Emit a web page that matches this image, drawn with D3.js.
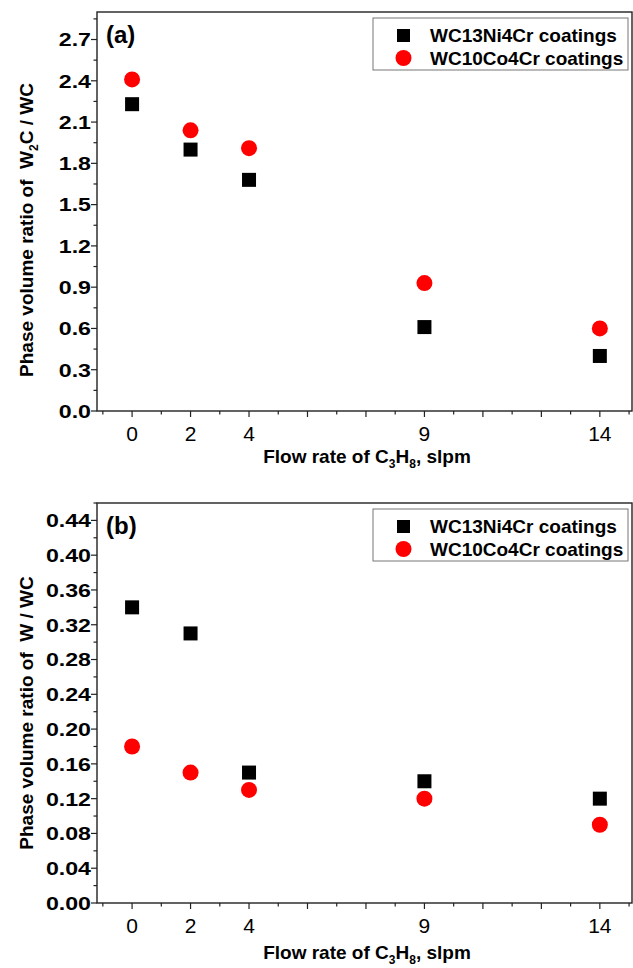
<!DOCTYPE html>
<html lang="en">
<head>
<meta charset="utf-8">
<script src="https://cdnjs.cloudflare.com/ajax/libs/d3/7.8.5/d3.min.js"></script>
<style>
  body { margin: 0; background: #fff; }
  svg { display: block; font-family: 'Liberation Sans', Arial, sans-serif; }
</style>
</head>
<body>
<svg width="633" height="968"></svg>
<script>
// flow rates (labels) and where they sit on the axis
const flowLabels = ['0', '2', '4', '9', '14']
const flowPos = [0, 2, 4, 10, 16]
const seriesNames = ['WC13Ni4Cr coatings', 'WC10Co4Cr coatings']

// panel (a): W2C / WC
const ni_a = [2.23, 1.90, 1.68, 0.61, 0.40]
const co_a = [2.41, 2.04, 1.91, 0.93, 0.60]
const yTicks_a = [0, 0.3, 0.6, 0.9, 1.2, 1.5, 1.8, 2.1, 2.4, 2.7]

// panel (b): W / WC
const ni_b = [0.34, 0.31, 0.15, 0.14, 0.12]
const co_b = [0.18, 0.15, 0.13, 0.12, 0.09]
const yTicks_b = [0, 0.04, 0.08, 0.12, 0.16, 0.20, 0.24, 0.28, 0.32, 0.36, 0.40, 0.44]

const svg = d3.select('svg')
const left = 97, right = 632

const x = d3.scaleLinear().domain([-1.2, 17.1]).range([left, right])

function panel(cfg) {
    const y = d3.scaleLinear().domain([0, cfg.ymax]).range([cfg.bottom, cfg.top])
    const g = svg.append('g')

    // frame
    g.append('rect')
        .attr('x', left).attr('y', cfg.top)
        .attr('width', right - left).attr('height', cfg.bottom - cfg.top)
        .attr('fill', 'none').attr('stroke', '#222').attr('stroke-width', 1.4)

    // x ticks: every unit, long every 2
    const xt = d3.range(-1, 18)
    g.selectAll('.xt').data(xt).enter().append('line')
        .attr('x1', d => x(d)).attr('x2', d => x(d))
        .attr('y1', cfg.bottom)
        .attr('y2', d => cfg.bottom + (d % 2 === 0 ? 6 : 3.5))
        .attr('stroke', '#222').attr('stroke-width', 1.2)
    g.selectAll('.xl').data(flowLabels).enter().append('text')
        .attr('x', (d, i) => x(flowPos[i]))
        .attr('y', cfg.bottom + 30)
        .attr('text-anchor', 'middle')
        .attr('font-family', "'Liberation Sans Narrow', 'Liberation Sans', Arial, sans-serif")
        .attr('font-size', 21)
        .text(d => d)

    // y ticks: major + half-step minor
    const step = cfg.yTicks[1] - cfg.yTicks[0]
    const minor = d3.range(0, cfg.ymax + 1e-9, step / 2)
    g.selectAll('.yt').data(minor).enter().append('line')
        .attr('x1', left).attr('x2', (d, i) => left - (i % 2 === 0 ? 6 : 3.5))
        .attr('y1', d => y(d)).attr('y2', d => y(d))
        .attr('stroke', '#222').attr('stroke-width', 1.2)
    g.selectAll('.yl').data(cfg.yTicks).enter().append('text')
        .attr('transform', d => 'translate(' + (left - 6) + ',' + y(d) + ') scale(1.22,1)')
        .attr('dy', '0.36em')
        .attr('text-anchor', 'end')
        .attr('font-size', 19).attr('font-weight', 'bold')
        .text(d => d.toFixed(cfg.digits))

    // panel letter
    g.append('text').attr('x', 106).attr('y', cfg.top + 31)
        .attr('font-size', 24).attr('font-weight', 'bold').text(cfg.letter)

    // axis titles
    const xt1 = g.append('text').attr('x', 367).attr('y', cfg.bottom + cfg.xTitleDy)
        .attr('text-anchor', 'middle').attr('font-size', 19).attr('font-weight', 'bold')
    xt1.append('tspan').text('Flow rate of C')
    xt1.append('tspan').attr('font-size', 12).attr('dy', 5).text('3')
    xt1.append('tspan').attr('dy', -5).text('H')
    xt1.append('tspan').attr('font-size', 12).attr('dy', 5).text('8')
    xt1.append('tspan').attr('dy', -5).text(', slpm')

    const yt1 = g.append('text')
        .attr('transform', 'translate(33,' + cfg.yTitleMid + ') rotate(-90)')
        .attr('text-anchor', 'middle').attr('font-size', 19).attr('font-weight', 'bold')
    cfg.yTitle(yt1)

    // points
    g.selectAll('.sq').data(cfg.ni).enter().append('rect')
        .attr('x', (d, i) => x(flowPos[i]) - 7)
        .attr('y', d => y(d) - 7)
        .attr('width', 14).attr('height', 14)
        .attr('fill', '#000')
    g.selectAll('.ci').data(cfg.co).enter().append('circle')
        .attr('cx', (d, i) => x(flowPos[i]))
        .attr('cy', d => y(d))
        .attr('r', 8)
        .attr('fill', '#f00')

    // legend
    const lg = g.append('g').attr('transform', 'translate(373,' + (cfg.top + 6) + ')')
    lg.append('rect').attr('width', 255).attr('height', 52)
        .attr('fill', '#fff').attr('stroke', '#777').attr('stroke-width', 1)
    lg.append('rect').attr('x', 24).attr('y', 11).attr('width', 13).attr('height', 13).attr('fill', '#000')
    lg.append('circle').attr('cx', 30.5).attr('cy', 40).attr('r', 8).attr('fill', '#f00')
    lg.selectAll('.lt').data(seriesNames).enter().append('text')
        .attr('x', 57).attr('y', (d, i) => 17 + i * 23)
        .attr('dy', '0.36em')
        .attr('font-size', 19).attr('font-weight', 'bold')
        .text(d => d)
}

panel({
    top: 12, bottom: 411, ymax: 2.9, yTicks: yTicks_a, digits: 1,
    ni: ni_a, co: co_a, letter: '(a)', xTitleDy: 52, yTitleMid: 230,
    yTitle: t => {
        t.append('tspan').text('Phase volume ratio of\u00a0\u00a0W')
        t.append('tspan').attr('font-size', 12).attr('dy', 5).text('2')
        t.append('tspan').attr('dy', -5).text('C / WC')
    }
})

panel({
    top: 503, bottom: 903, ymax: 0.46, yTicks: yTicks_b, digits: 2,
    ni: ni_b, co: co_b, letter: '(b)', xTitleDy: 56, yTitleMid: 713,
    yTitle: t => {
        t.append('tspan').text('Phase volume ratio of\u00a0\u00a0W / WC')
    }
})
</script>
</body>
</html>
